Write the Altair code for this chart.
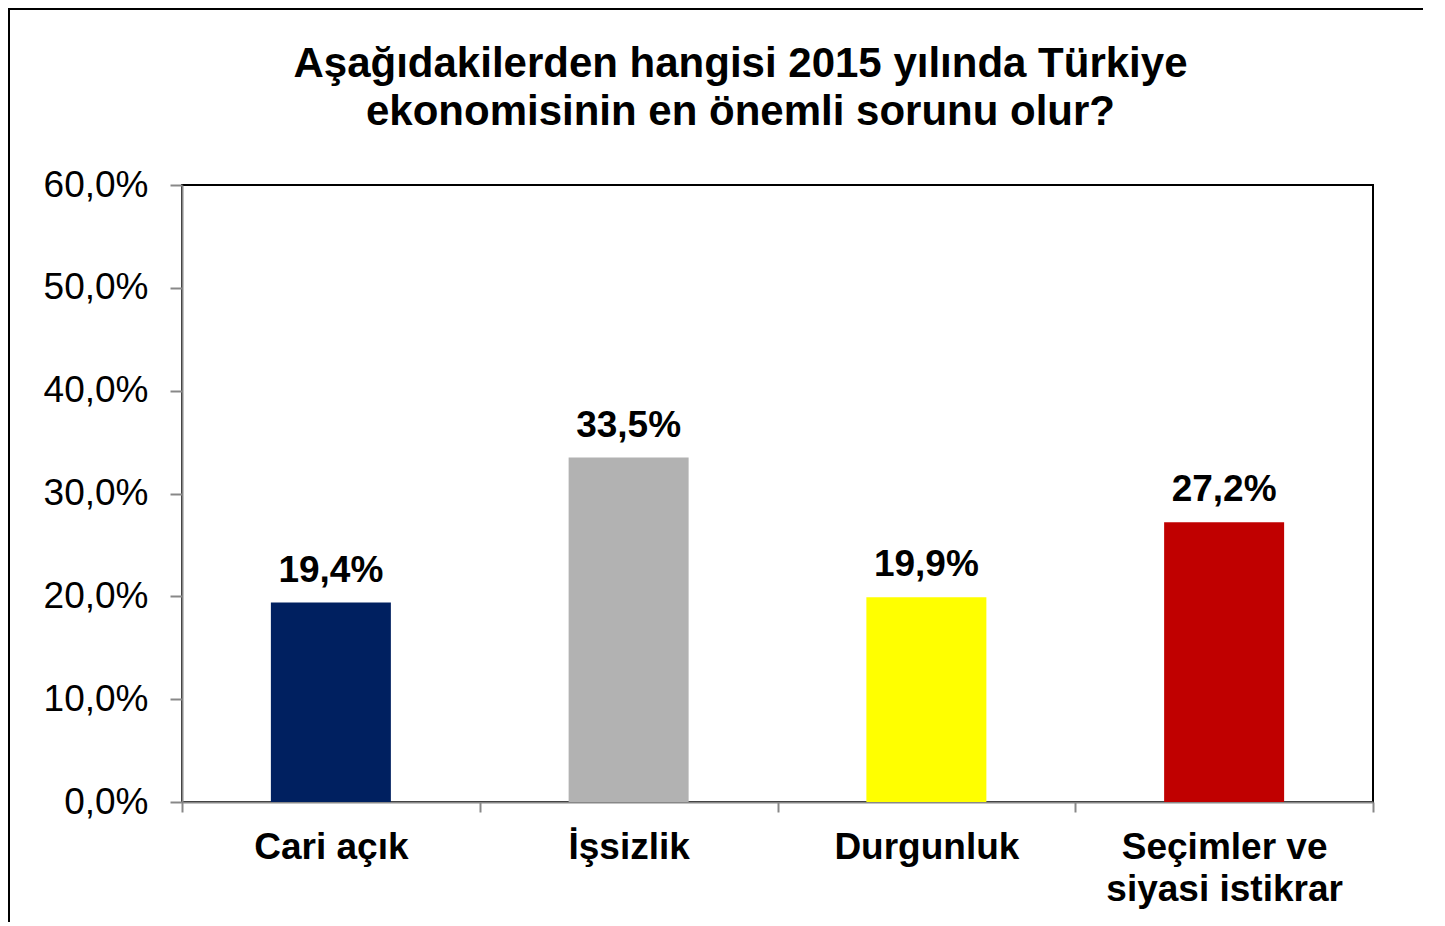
import altair as alt
import pandas as pd

categories = ["Cari açık", "İşsizlik", "Durgunluk", "Seçimler ve\nsiyasi istikrar"]
values = [19.4, 33.5, 19.9, 27.2]
colors = ["#002060", "#B2B2B2", "#FFFF00", "#C00000"]
title_lines = ["Aşağıdakilerden hangisi 2015 yılında Türkiye", "ekonomisinin en önemli sorunu olur?"]

df = pd.DataFrame({"kategori": categories, "deger": values, "renk": colors})
df["etiket"] = [f"{v:.1f}".replace(".", ",") + "%" for v in values]

FONT = "Liberation Sans, Arial, sans-serif"
FS = 37

x_enc = alt.X(
    "kategori:N",
    sort=categories,
    scale=alt.Scale(paddingInner=0, paddingOuter=0),
    axis=alt.Axis(
        title=None,
        labelAngle=0,
        labelExpr="split(datum.label, '\\n')",
        labelFont=FONT,
        labelFontSize=FS,
        labelFontWeight="bold",
        labelColor="#000000",
        labelLineHeight=42,
        labelBaseline="top",
        labelPadding=17,
        labelLimit=500,
        tickBand="extent",
        tickSize=10,
        tickColor="#888888",
        tickWidth=2,
        domainColor="#888888",
        domainWidth=2,
        grid=False,
    ),
)

y_enc = alt.Y(
    "deger:Q",
    scale=alt.Scale(domain=[0, 60], nice=False),
    axis=alt.Axis(
        title=None,
        values=[0, 10, 20, 30, 40, 50, 60],
        labelExpr="replace(format(datum.value, '.1f'), '.', ',') + '%'",
        labelFont=FONT,
        labelFontSize=FS,
        labelColor="#000000",
        labelPadding=22,
        tickSize=12,
        tickColor="#888888",
        tickWidth=2,
        domainColor="#888888",
        domainWidth=2,
        grid=False,
    ),
)

base = alt.Chart(df)

bars = base.mark_bar(width=alt.RelativeBandSize(0.403)).encode(
    x=x_enc,
    y=y_enc,
    color=alt.Color("renk:N", scale=None, legend=None),
)

labels = base.mark_text(
    font=FONT, fontSize=FS, fontWeight="bold", color="#000000",
    baseline="alphabetic", dy=-21,
).encode(
    x=alt.X("kategori:N", sort=categories),
    y=alt.Y("deger:Q"),
    text="etiket:N",
)

frame = alt.Chart(alt.Data(values=[{"f": 1}])).mark_rect(
    fill=None, stroke="#000000", strokeWidth=2
).encode(
    x=alt.value(-173), x2=alt.value(1249), y=alt.value(-176), y2=alt.value(760)
)

chart = alt.layer(bars, labels, frame).properties(
    width=1191,
    height=617,
    autosize=alt.AutoSizeParams(type="none"),
    padding={"left": 174, "top": 177, "right": 50, "bottom": 120},
    title=alt.TitleParams(
        text=title_lines,
        font=FONT,
        fontSize=42,
        fontWeight="bold",
        color="#000000",
        anchor="middle",
        frame="group",
        dx=-37,
        offset=-126,
        lineHeight=48,
    ),
).configure_view(
    stroke="#000000", strokeWidth=2
)

chart.save("out.html", embed_options={"renderer": "svg", "actions": False})
